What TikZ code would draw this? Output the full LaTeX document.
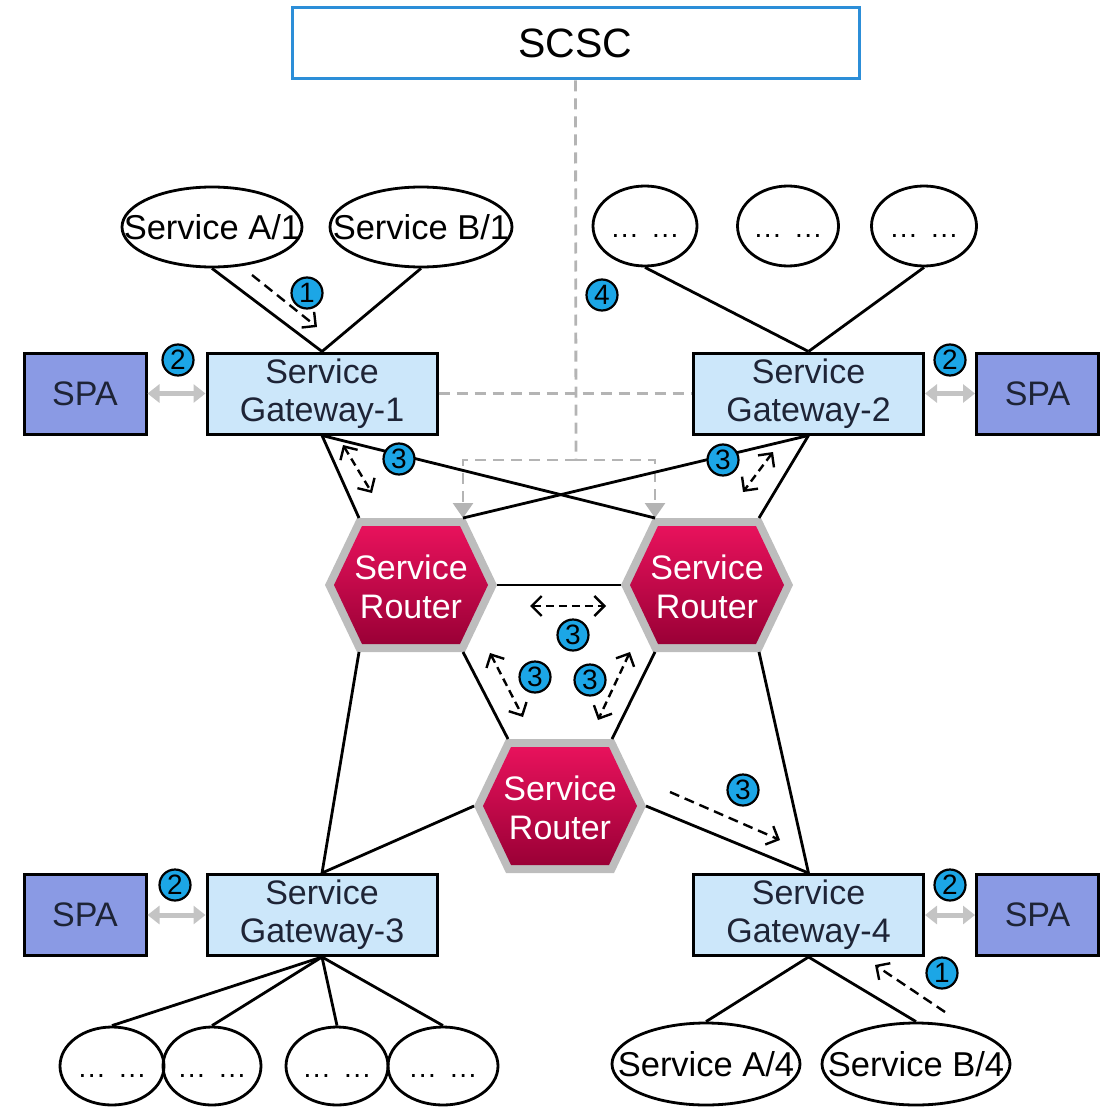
\documentclass[tikz,border=0pt]{standalone}
\usepackage{fontspec}
\setmainfont{Liberation Sans}
\usetikzlibrary{shapes.geometric,arrows.meta,calc}

\definecolor{gwfill}{HTML}{CCE7FA}
\definecolor{spafill}{HTML}{8A9AE4}
\definecolor{numfill}{HTML}{1CA6E6}
\definecolor{scscblue}{HTML}{2C8ED8}
\definecolor{dashgray}{HTML}{B4B4B4}
\definecolor{linkgray}{HTML}{C4C4C4}
\definecolor{rimgray}{HTML}{BDBDBD}
\definecolor{srtop}{HTML}{E8125C}
\definecolor{srbot}{HTML}{9A0036}
\definecolor{navytext}{HTML}{1E2436}

% a spaced-out "... ..." placeholder
\newcommand\dotgroup{.\kern1.5pt.\kern1.5pt.}
\newcommand\placeholder{\dotgroup\hspace{14pt}\dotgroup}

\tikzset{
  box/.style={draw=black, line width=3pt, inner sep=0pt, align=center,
    text=navytext, font=\fontsize{34}{38}\selectfont},
  gw/.style={box, fill=gwfill, minimum width=230pt, minimum height=81pt},
  spa/.style={box, fill=spafill, minimum width=122pt, minimum height=81pt},
  svc/.style={ellipse, draw=black, line width=2.8pt, inner sep=0pt,
    minimum height=80pt},
  svctext/.style={font=\fontsize{34.5}{38}\selectfont, text=black},
  dotstext/.style={font=\fontsize{28}{30}\selectfont, text=black, yshift=-10pt},
  num/.style={circle, draw=black, fill=numfill, line width=2.2pt,
    minimum size=31pt, inner sep=0pt, font=\fontsize{28}{28}\selectfont},
  link/.style={draw=black, line width=2.8pt},
  ctrl/.style={draw=dashgray, line width=2.8pt, dash pattern=on 11pt off 7pt},
  ctrltip/.style={-{Triangle[length=15pt,width=20pt,fill=dashgray]}},
  spalink/.style={draw=linkgray, line width=5pt,
    {Triangle[length=12pt,width=18pt]}-{Triangle[length=12pt,width=18pt]}},
  flow/.style={draw=black, line width=2.4pt, dash pattern=on 10pt off 6pt,
    -{Straight Barb[length=10pt,width=20pt]}},
  flowtwo/.style={draw=black, line width=2.4pt, dash pattern=on 8pt off 5pt,
    {Straight Barb[length=10pt,width=20pt]}-{Straight Barb[length=10pt,width=20pt]}},
  srtext/.style={align=center, text=white, inner sep=0pt,
    font=\fontsize{34}{39}\selectfont},
  router/.pic={
    \fill[rimgray] (-86,0) -- (-54,-67) -- (54,-67) -- (86,0) -- (54,67)
      -- (-54,67) -- cycle;
    \shade[top color=srtop, bottom color=srbot] (-77,0) -- (-49,-59)
      -- (49,-59) -- (77,0) -- (49,59) -- (-49,59) -- cycle;
    \coordinate (-l) at (-86,0);
    \coordinate (-r) at (86,0);
    \coordinate (-tl) at (-52,-67);
    \coordinate (-tr) at (52,-67);
    \coordinate (-bl) at (-52,67);
    \coordinate (-br) at (52,67);
    \node[srtext] (-txt) at (0,2) {Service\\Router};
  }
}

\begin{document}
\begin{tikzpicture}[x=1pt,y=-1pt]
\useasboundingbox (0,0) rectangle (1105,1107);

% controller
\node[draw=scscblue, line width=3pt, minimum width=567pt, minimum height=71pt,
  inner sep=0pt, font=\fontsize{41}{41}\selectfont] (scsc) at (575.5,43.5) {SCSC};

% gateways and policy agents
\node[gw] (gw1) at (322,393.5) {Service\\Gateway-1};
\node[gw] (gw2) at (808.5,393.5) {Service\\Gateway-2};
\node[gw] (gw3) at (322,915) {Service\\Gateway-3};
\node[gw] (gw4) at (808.5,915) {Service\\Gateway-4};
\node[spa] (spa1) at (85,393.5) {SPA};
\node[spa] (spa2) at (1037.5,393.5) {SPA};
\node[spa] (spa3) at (85,915) {SPA};
\node[spa] (spa4) at (1037.5,915) {SPA};

% service routers
\pic (sr1) at (411,585) {router};
\pic (sr2) at (707,585) {router};
\pic (sr3) at (560,806) {router};

% services
\node[svc, minimum width=180pt, label={[svctext]center:Service A/1}] (a1) at (212,227) {};
\node[svc, minimum width=182pt, label={[svctext]center:Service B/1}] (b1) at (421,227) {};
\node[svc, minimum width=104pt, label={[dotstext]center:\placeholder}] (e1) at (645,226) {};
\node[svc, minimum width=101pt, label={[dotstext]center:\placeholder}] (e2) at (788,226) {};
\node[svc, minimum width=105pt, label={[dotstext]center:\placeholder}] (e3) at (924,226) {};
\node[svc, minimum width=104pt, minimum height=78pt, label={[dotstext]center:\placeholder}] (d1) at (112,1066) {};
\node[svc, minimum width=98pt, minimum height=78pt, label={[dotstext]center:\placeholder}] (d2) at (212,1066) {};
\node[svc, minimum width=102pt, minimum height=78pt, label={[dotstext]center:\placeholder}] (d3) at (337,1066) {};
\node[svc, minimum width=110pt, minimum height=78pt, label={[dotstext]center:\placeholder}] (d4) at (443,1066) {};
\node[svc, minimum width=188pt, minimum height=82pt, label={[svctext]center:Service A/4}] (a4) at (706,1064) {};
\node[svc, minimum width=188pt, minimum height=82pt, label={[svctext]center:Service B/4}] (b4) at (916,1064) {};

% control paths from the SCSC
\coordinate (hub) at (576,460);
\draw[ctrl] (scsc.south) -- (hub);
\draw[ctrl, ctrltip] (hub) -| (sr1-tr);
\draw[ctrl, ctrltip] (hub) -| (sr2-tl);
\draw[ctrl] (gw1.east) -- (gw2.west);

% SPA links
\draw[spalink] (spa1.east) -- (gw1.west);
\draw[spalink] (gw2.east) -- (spa2.west);
\draw[spalink] (spa3.east) -- (gw3.west);
\draw[spalink] (gw4.east) -- (spa4.west);

% network links
\draw[link] (a1.south) -- (gw1.north);
\draw[link] (b1.south) -- (gw1.north);
\draw[link] (e1.south) -- (gw2.north);
\draw[link] (e3.south) -- (gw2.north);
\draw[link] (gw1.south) -- (sr1-tl);
\draw[link] (gw1.south) -- (sr2-tl);
\draw[link] (gw2.south) -- (sr2-tr);
\draw[link] (gw2.south) -- (sr1-tr);
\draw[link] (sr1-r) -- (sr2-l);
\draw[link] (sr1-br) -- (sr3-tl);
\draw[link] (sr2-bl) -- (sr3-tr);
\draw[link] (sr1-bl) -- (gw3.north);
\draw[link] (sr3-l) -- (gw3.north);
\draw[link] (sr2-br) -- (gw4.north);
\draw[link] (sr3-r) -- (gw4.north);
\foreach \d in {d1,d2,d3,d4} \draw[link] (gw3.south) -- (\d.north);
\draw[link] (gw4.south) -- (a4.north);
\draw[link] (gw4.south) -- (b4.north);

% message flows
\coordinate (f1s) at (252,275);  \coordinate (f1e) at (317,327);
\coordinate (f2s) at (945,1012); \coordinate (f2e) at (875,965);
\coordinate (f3s) at (670,792);  \coordinate (f3e) at (780,840);
\draw[flow] (f1s) -- (f1e);
\draw[flow] (f2s) -- (f2e);
\draw[flow] (f3s) -- (f3e);
\coordinate (g1a) at (343,445); \coordinate (g1b) at (372,493);
\coordinate (g2a) at (773,452); \coordinate (g2b) at (743,492);
\coordinate (g3a) at (530,606); \coordinate (g3b) at (606,606);
\coordinate (g4a) at (490,653); \coordinate (g4b) at (523,717);
\coordinate (g5a) at (630,652); \coordinate (g5b) at (598,720);
\draw[flowtwo] (g1a) -- (g1b);
\draw[flowtwo] (g2a) -- (g2b);
\draw[flowtwo] (g3a) -- (g3b);
\draw[flowtwo] (g4a) -- (g4b);
\draw[flowtwo] (g5a) -- (g5b);

% step numbers
\node[num] (n1a) at (307,293) {1};
\node[num] (n1b) at (942,973) {1};
\node[num] (n2a) at (178,360) {2};
\node[num] (n2b) at (950,360) {2};
\node[num] (n2c) at (175,885) {2};
\node[num] (n2d) at (950,885) {2};
\node[num] (n3a) at (399,459) {3};
\node[num] (n3b) at (723,460) {3};
\node[num] (n3c) at (573,635) {3};
\node[num] (n3d) at (535,677) {3};
\node[num] (n3e) at (590,680) {3};
\node[num] (n3f) at (743,790) {3};
\node[num] (n4) at (602,295) {4};
\end{tikzpicture}
\end{document}
